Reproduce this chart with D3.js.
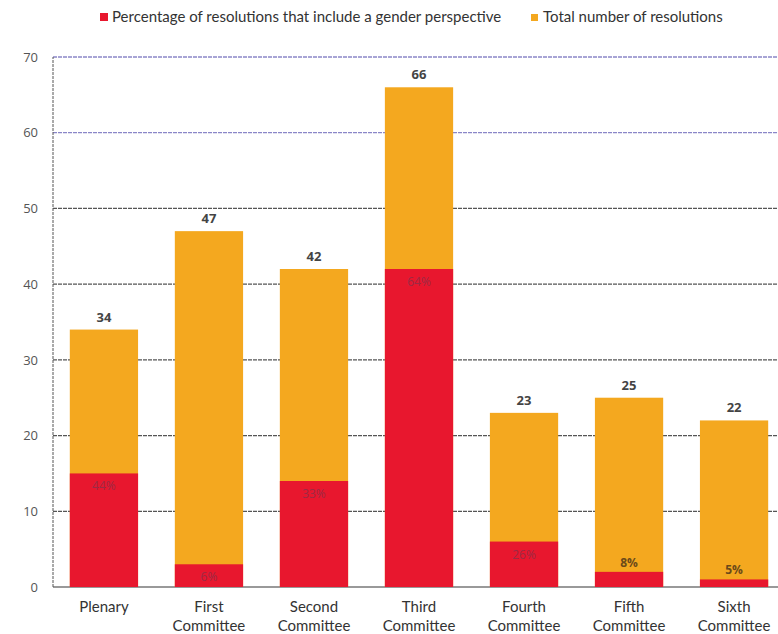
<!DOCTYPE html>
<html>
<head>
<meta charset="utf-8">
<script src="https://cdn.jsdelivr.net/npm/d3@7"></script>
<style>
  body { margin: 0; background: #fff; }
  svg { display: block; font-family: Lato, "Open Sans", sans-serif; }
</style>
</head>
<body>
<div id="chart"></div>
<script>
// chart data
var committees = [
  ["Plenary"],
  ["First", "Committee"],
  ["Second", "Committee"],
  ["Third", "Committee"],
  ["Fourth", "Committee"],
  ["Fifth", "Committee"],
  ["Sixth", "Committee"]
];
var totals = [34, 47, 42, 66, 23, 25, 22];
var genderCounts = [15, 3, 14, 42, 6, 2, 1];
var genderPct = ["44%", "6%", "33%", "64%", "26%", "8%", "5%"];
var yTicks = [0, 10, 20, 30, 40, 50, 60, 70];
var legendLabels = ["Percentage of resolutions that include a gender perspective", "Total number of resolutions"];

var width = 778, height = 634;
var margin = { top: 57, right: -7, bottom: 47, left: 53 };

var svg = d3.select("#chart").append("svg")
  .attr("width", width)
  .attr("height", height);

var x = d3.scaleBand()
  .domain(d3.range(committees.length))
  .range([margin.left, width - margin.right])
  .paddingInner(0.35)
  .paddingOuter(0.16);

var y = d3.scaleLinear()
  .domain([0, 70])
  .range([height - margin.bottom, margin.top]);

var red = "#e8172e", orange = "#f4a81f";

// gridlines
svg.append("g")
  .selectAll("line")
  .data(yTicks.filter(function (d) { return d > 0; }))
  .enter().append("line")
  .attr("x1", margin.left)
  .attr("x2", width)
  .attr("y1", function (d) { return y(d); })
  .attr("y2", function (d) { return y(d); })
  .attr("stroke", function (d) { return d >= 60 ? "#8a86c8" : "#555"; })
  .attr("stroke-width", 1.3)
  .attr("stroke-dasharray", "4,1");

// baseline + left axis line
svg.append("line")
  .attr("x1", margin.left).attr("x2", width)
  .attr("y1", y(0)).attr("y2", y(0))
  .attr("stroke", "#777").attr("stroke-width", 1.3);
svg.append("line")
  .attr("x1", margin.left).attr("x2", margin.left)
  .attr("y1", y(0)).attr("y2", y(70))
  .attr("stroke", "#555").attr("stroke-width", 1)
  .attr("stroke-dasharray", "3,1");

// y tick labels
var yAxis = svg.append("g")
  .attr("transform", "translate(" + margin.left + ",0)")
  .call(d3.axisLeft(y).tickValues(yTicks).tickSize(0).tickPadding(15));
yAxis.select(".domain").remove();
yAxis.selectAll("text")
  .attr("fill", "#555")
  .attr("font-size", 13)
  .attr("font-family", "'Open Sans', sans-serif");

var bars = svg.append("g")
  .selectAll("g")
  .data(totals)
  .enter().append("g");

// total bars (orange)
bars.append("rect")
  .attr("x", function (d, i) { return x(i); })
  .attr("width", x.bandwidth())
  .attr("y", function (d) { return y(d); })
  .attr("height", function (d) { return y(0) - y(d); })
  .attr("fill", orange);

// gender part (red)
bars.append("rect")
  .attr("x", function (d, i) { return x(i); })
  .attr("width", x.bandwidth())
  .attr("y", function (d, i) { return y(genderCounts[i]); })
  .attr("height", function (d, i) { return y(0) - y(genderCounts[i]); })
  .attr("fill", red);

// total labels
bars.append("text")
  .attr("x", function (d, i) { return x(i) + x.bandwidth() / 2; })
  .attr("y", function (d) { return y(d) - 8; })
  .attr("text-anchor", "middle")
  .attr("font-size", 13)
  .attr("font-weight", "bold")
  .attr("fill", "#444")
  .attr("font-family", "'Open Sans', sans-serif")
  .text(function (d) { return d; });

// percentage labels
bars.append("text")
  .attr("x", function (d, i) { return x(i) + x.bandwidth() / 2; })
  .attr("y", function (d, i) {
    var c = genderCounts[i];
    if (c < 3) return y(c) - 5;
    return y(c) + 17;
  })
  .attr("text-anchor", "middle")
  .attr("font-size", 12)
  .attr("font-family", "'Open Sans', sans-serif")
  .attr("fill", function (d, i) { return genderCounts[i] < 3 ? "#6b4a1a" : "#9c2a44"; })
  .attr("font-weight", function (d, i) { return genderCounts[i] < 3 ? "bold" : "normal"; })
  .text(function (d, i) { return genderPct[i]; });

// category labels
var cat = svg.append("g")
  .selectAll("text")
  .data(committees)
  .enter().append("text")
  .attr("x", function (d, i) { return x(i) + x.bandwidth() / 2; })
  .attr("y", y(0) + 25)
  .attr("text-anchor", "middle")
  .attr("font-size", 15)
  .attr("fill", "#333");
cat.selectAll("tspan")
  .data(function (d) { return d; })
  .enter().append("tspan")
  .attr("x", function () { return this.parentNode.getAttribute("x"); })
  .attr("dy", function (d, j) { return j === 0 ? 0 : 19; })
  .text(function (d) { return d; });

// legend
var legend = svg.append("g").attr("font-size", 15).attr("fill", "#333");
var legendX = [100, 531];
var legendColors = [red, orange];
legendLabels.forEach(function (label, i) {
  legend.append("rect")
    .attr("x", legendX[i]).attr("y", i === 0 ? 13 : 14)
    .attr("width", i === 0 ? 8 : 7).attr("height", i === 0 ? 8 : 7)
    .attr("fill", legendColors[i]);
  legend.append("text")
    .attr("x", legendX[i] + 12).attr("y", 22)
    .text(label);
});
</script>
</body>
</html>
